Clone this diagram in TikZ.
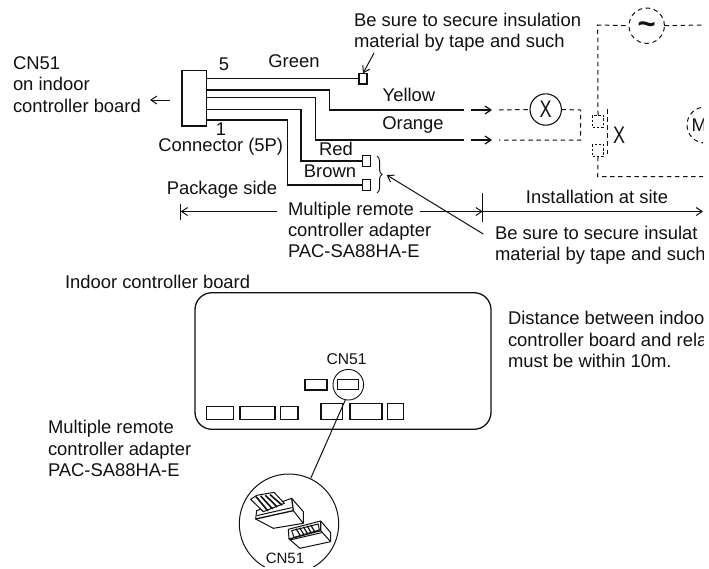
\documentclass[tikz,border=0pt]{standalone}
\usepackage{fontspec}
\setmainfont{Liberation Sans}
\usetikzlibrary{arrows.meta,decorations.pathreplacing}
\definecolor{ink}{HTML}{111111}
\tikzset{
  txt/.style={inner sep=0pt,outer sep=0pt,align=left,anchor=west,text=ink,font=\fontsize{18.4}{21.3}\selectfont},
  ctxt/.style={txt,anchor=center,align=center},
  wire/.style={draw=ink,line width=1.2pt},
  thin line/.style={draw=ink,line width=1pt},
  part/.style={draw=ink,line width=1.2pt,inner sep=0pt,outer sep=0pt,rectangle,fill=white},
  dash line/.style={draw=ink,line width=1pt,dash pattern=on 4.5pt off 3.6pt},
  barb/.style={-{Straight Barb[length=6pt,width=8pt]}},
  ring/.style={circle,inner sep=0pt,outer sep=0pt},
  bigx/.style={ctxt,xscale=0.75,font=\fontsize{24}{24}\selectfont},
}
\newcommand{\partat}[5]{\node[part,minimum width=#3pt,minimum height=#4pt] (#5) at (#1,#2) {};}
\begin{document}
\begin{tikzpicture}[x=1pt,y=-1pt]
\useasboundingbox (0,0) rectangle (709,568);
\begin{scope}
\clip (0,0) rectangle (703,566.5);

% texts, top
\node[txt] (secureA) at (354,32) {Be sure to secure insulation\\material by tape and such};
\node[txt] (cn) at (13,84.5) {CN51\\on indoor\\controller board};
\node[ctxt] (five) at (224,64) {5};
\node[ctxt] (green) at (294,61.5) {Green};
\node[ctxt] (yellow) at (409,95) {Yellow};
\node[ctxt] (orange) at (413,125) {Orange};
\node[ctxt] (one) at (221,129.5) {1};
\node[ctxt] (connlab) at (220.7,146.5) {Connector (5P)};
\node[ctxt] (red) at (336,149) {Red};
\node[ctxt] (brown) at (330,171) {Brown};
\node[ctxt] (pkg) at (222,190) {Package side};
\node[txt] (adapterA) at (288,230) {Multiple remote\\controller adapter\\PAC-SA88HA-E};
\node[ctxt] (inst) at (597,197) {Installation at site};
\node[txt] (secureB) at (495,245.5) {Be sure to secure insulat\\material by tape and such};
\node[txt] (indoor) at (65,282) {Indoor controller board};
\node[txt] (dist) at (508,339.5) {Distance between indoo\\controller board and rela\\must be within 10m.};
\node[txt] (adapterB) at (48,448.5) {Multiple remote\\controller adapter\\PAC-SA88HA-E};
\node[ctxt,font=\fontsize{15.6}{18}\selectfont] (cnB) at (346.5,359.3) {CN51};

% connector and terminals
\partat{194.4}{98.2}{24.7}{55.7}{conn}
\partat{363}{78.7}{8}{10.7}{tg}
\partat{366.5}{161}{8.4}{10.6}{tr}
\partat{366.5}{185}{8.4}{10.6}{tb}
\draw[wire] (conn.east |- tg.west) -- (tg.west);
\coordinate (ye) at (464,110);
\coordinate (oe) at (464,140);
\draw[wire] (206.7,90) -- (329.3,90) -- (329.3,110) -- (ye);
\draw[wire] (206.7,97.7) -- (315.7,97.7) -- (315.7,140) -- (oe);
\draw[wire] (206.7,109.7) -- (301,109.7) -- (301,161) -- (tr.west);
\draw[wire] (206.7,120) -- (287.3,120) -- (287.3,185) -- (tb.west);
\coordinate (cnL) at (150,100);
\coordinate (cnR) at (170,100);
\draw[thin line,barb] (cnR) -- (cnL);
\draw[thin line,barb] (374,53) -- (tg.north);

% brace and its arrow
\draw[thin line,decorate,decoration={brace,amplitude=5pt}] (377,156) -- (377,193);
\coordinate (braceTip) at (386.7,175);
\coordinate (secB) at (483.3,234);
\draw[thin line,barb] (secB) -- (braceTip);

% arrows at the bottom of the top part
\coordinate (tick) at (482.7,211.5);
\coordinate (pkgEnd) at (180.7,211.5);
\coordinate (instEnd) at (703,211.5);
\draw[thin line,barb] (277,211.5) -- (pkgEnd);
\draw[thin line] (pkgEnd |- 0,204) -- (pkgEnd |- 0,220);
\draw[thin line,barb] (420,211.5) -- (tick);
\draw[thin line,barb] (tick) -- (instEnd);
\draw[thin line] (tick |- 0,193) -- (tick |- 0,222);

% field wiring
\node[ring,draw=ink,line width=1.1pt,minimum size=31.4pt] (lamp) at (545.7,109.5) {};
\node[bigx] (lampx) at (545.7,109.5) {X};
\draw[wire,barb] (471,110) -- (492,110);
\draw[wire,barb] (471,140) -- (492,140);
\draw[dash line] (499,110) -- (lamp.west);
\draw[dash line] (lamp.east) -- (580.7,110) -- (580.7,140) -- (499,140);
\node[ring,dash line,minimum size=35.4pt] (ac) at (646.7,25.7) {};
\node[ctxt,font=\fontsize{31}{31}\selectfont\bfseries] (tilde) at (646.7,28) {\char"7E};
\node[part,draw=ink,dash pattern=on 2.4pt off 1.8pt,line width=1pt,minimum width=10.6pt,minimum height=12pt] (sw1) at (598,121) {};
\node[part,draw=ink,dash pattern=on 2.4pt off 1.8pt,line width=1pt,minimum width=10.6pt,minimum height=12.4pt] (sw2) at (598,150.5) {};
\draw[dash line] (sw1.north) -- (597.7,25) -- (ac.west);
\draw[dash line] (ac.east) -- (703,25);
\draw[dash line] (sw2.south) -- (597.7,176.7) -- (703,176.7);
\draw[dash line] (607.7,109) -- (607.7,157);
\node[bigx] (swx) at (619,135) {X};
\node[ring,dash line,fill=white,minimum size=36pt] (motor) at (705,125) {};
\node[ctxt,anchor=west] (mlab) at (691.5,125) {M};

% board
\node[draw=ink,line width=1.3pt,rounded corners=17pt,minimum width=296pt,minimum height=136.6pt,inner sep=0pt,outer sep=0pt] (board) at (343,361) {};
\partat{220}{413}{26.6}{12.6}{b1}
\partat{257.5}{413}{35}{12.6}{b2}
\partat{289.3}{413}{17.3}{12.6}{b3}
\partat{331.8}{411.3}{21.7}{16}{b4}
\partat{366}{411.3}{32}{16}{b5}
\partat{395.3}{411.3}{16}{16}{b6}
\partat{316}{384.7}{22}{10.7}{b7}
\partat{348}{384.3}{20.6}{10}{cnpart}
\node[ring,draw=ink,line width=0.9pt,minimum size=30.6pt] (lens) at (348.3,384.7) {};
\node[ring,draw=ink,line width=1pt,minimum size=99.4pt] (detail) at (289,523.7) {};
\draw[thin line] (lens.south) ++(-3,0) -- (310.7,478.3);
\node[ctxt,font=\fontsize{15}{17}\selectfont] (cnC) at (285,558) {CN51};

% plug drawing, in 3x zoom units
\begin{scope}[shift={(190,340)},x=0.3333pt,y=-0.3333pt,line join=round]
  % plug
  \draw[draw=ink,line width=1pt,fill=white] (197,537) -- (200,512) -- (305,475) -- (340,515) -- (340,550) -- (250,565) -- cycle;
  \draw[draw=ink,line width=1.3pt] (197,537) -- (310,512) -- (305,475);
  \draw[draw=ink,line width=1pt] (200,527) -- (305,503);
  \draw[draw=ink,line width=1pt] (310,512) -- (340,550);
  \draw[draw=ink,line width=1pt,fill=white] (182,478) -- (200,466) -- (252,457) -- (283,490) -- (220,515) -- cycle;
  \foreach \d in {0,14,28,42}
    \draw[draw=ink,line width=1.6pt] (198+\d,470-\d*0.15) -- (234+\d,513-\d*0.42);
  % socket
  \draw[draw=ink,line width=1pt,fill=white] (295,568) -- (392,543) -- (422,578) -- (422,605) -- (330,625) -- (297,597) -- cycle;
  \draw[draw=ink,line width=1.3pt] (297,597) -- (392,572) -- (392,543);
  \draw[draw=ink,line width=1pt] (392,572) -- (422,605);
  \draw[draw=ink,line width=1pt] (300,600) -- (395,578);
  \draw[draw=ink,line width=1pt,fill=white] (305,572) -- (385,552) -- (388,570) -- (312,592) -- cycle;
  \foreach \d in {0,11,22,33,44}
    \draw[draw=ink,line width=1.2pt] (318+\d,566-\d*0.25) -- (331+\d,587-\d*0.25);
\end{scope}
\end{scope}
\end{tikzpicture}
\end{document}
